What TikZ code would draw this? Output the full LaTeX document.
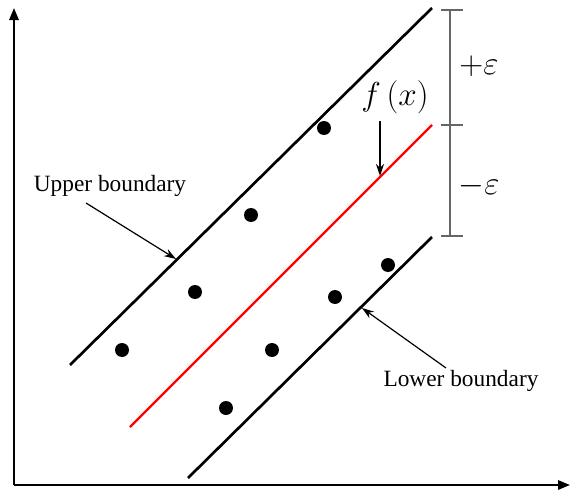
\documentclass[tikz,border=0pt]{standalone}
\usepackage{amsmath,amssymb}
\usepackage{fontspec}
\setmainfont{Liberation Serif}
\usetikzlibrary{positioning, arrows.meta}

\begin{document}
\begin{tikzpicture}[
    x=0.75pt, y=-0.75pt,
    axis/.style={-{Triangle[length=9pt, width=7pt]}, line width=1.6pt},
    bound/.style={line width=2pt},
    fline/.style={line width=1.6pt, red},
    dot/.style={circle, fill=black, inner sep=0pt, minimum size=10.5pt},
    arrow/.style={-{Stealth[length=9pt, width=6pt]}, line width=0.9pt},
    tick/.style={line width=1.2pt, black!60},
    lbl/.style={font=\fontsize{17.5}{21}\selectfont, inner sep=1pt},
    sym/.style={font=\fontsize{24}{28}\selectfont, inner sep=1pt}
  ]
    \useasboundingbox (0,0) rectangle (572,496);

    % axes
    \coordinate (o) at (14,485);
    \coordinate (ytop) at (14,8);
    \coordinate (xend) at (570,485);
    \draw[axis] (o) -- (ytop);
    \draw[axis] (o) -- (xend);

    % boundaries and f(x)
    \coordinate (ub1) at (70,365);
    \coordinate (ub2) at (432,8);
    \coordinate (f1) at (130,427);
    \coordinate (f2) at (432,125);
    \coordinate (lb1) at (188,478);
    \coordinate (lb2) at (432,237);
    \draw[bound] (ub1) -- (ub2);
    \draw[fline] (f1) -- (f2);
    \draw[bound] (lb1) -- (lb2);

    % data points
    \foreach \px/\py [count=\i] in {122/350, 195/292, 251/215, 324/128, 226/408, 272/350, 335/297, 388/265}
      \node[dot] (p\i) at (\px,\py) {};

    % epsilon bracket
    \coordinate (b1) at (450,10);
    \coordinate (b2) at (450,125);
    \coordinate (b3) at (450,236);
    \draw[tick] (b1) -- (b3);
    \foreach \c in {b1, b2, b3}
      \draw[tick] ([xshift=-7]\c) -- ([xshift=10]\c);
    \node[sym] (pe) at (479,66) {$+\varepsilon$};
    \node[sym] (me) at (479,186) {$-\varepsilon$};

    % labels
    \node[sym] (fx) at (395,97) {$f\left(x\right)$};
    \coordinate (fxs) at (380,121);
    \coordinate (fxe) at (380,176);
    \draw[arrow] (fxs) -- (fxe);

    \node[lbl] (ublbl) at (110,186) {Upper boundary};
    \coordinate (ubs) at (86,203);
    \coordinate (ube) at (176,259);
    \draw[arrow] (ubs) -- (ube);

    \node[lbl] (lblbl) at (461,381) {Lower boundary};
    \coordinate (lbs) at (446,368);
    \coordinate (lbe) at (362,308);
    \draw[arrow] (lbs) -- (lbe);
  \end{tikzpicture}
\end{document}
